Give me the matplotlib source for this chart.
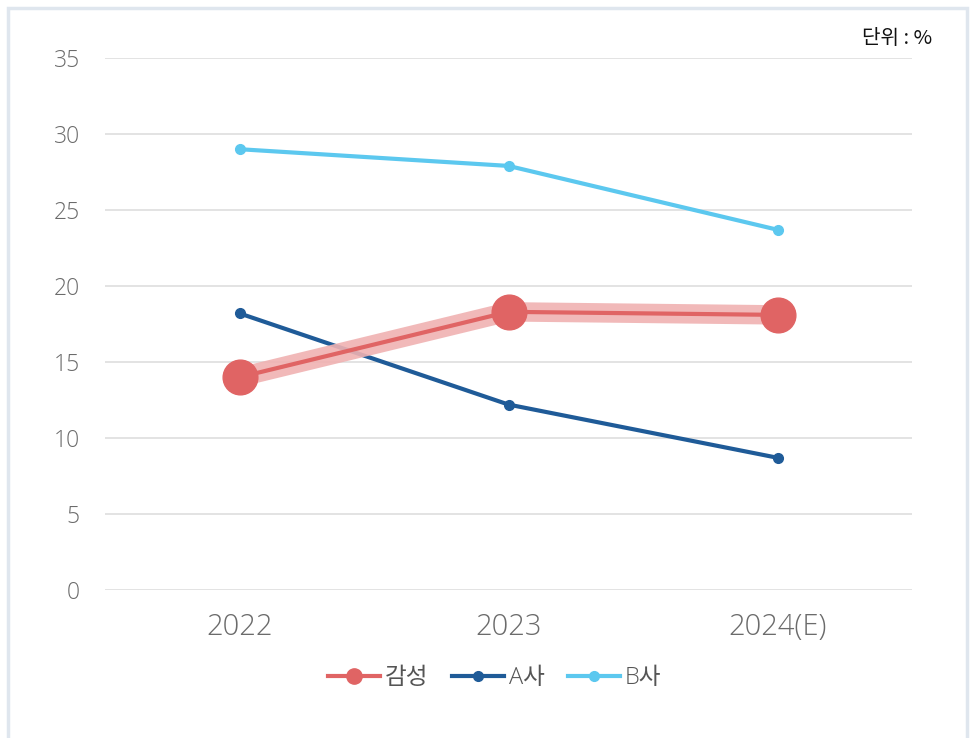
import matplotlib
matplotlib.use("Agg")
import matplotlib.pyplot as plt
from matplotlib.patches import Rectangle
from matplotlib.lines import Line2D

plt.rcParams['font.family'] = ['Open Sans', 'Noto Sans CJK KR', 'DejaVu Sans']

categories = ['2022', '2023', '2024(E)']
gamsung = [14.0, 18.3, 18.1]
a_sa = [18.2, 12.2, 8.7]
b_sa = [29.0, 27.9, 23.7]
series_names = ['감성', 'A사', 'B사']
yticks = [0, 5, 10, 15, 20, 25, 30, 35]

RED = '#e06464'
BAND = '#f0b2b2'
BLUE = '#1f5b98'
SKY = '#5cc8ef'

fig = plt.figure(figsize=(9.76, 7.38), dpi=100)
fig.patches.append(Rectangle((8/976, -0.05), (967-8)/976, 1.05 - 8/738,
                             transform=fig.transFigure, fill=False,
                             edgecolor='#dfe6ee', linewidth=2.5))
ax = fig.add_axes([105/976, 1 - 590/738, (912-105)/976, (590-58)/738])
x = list(range(len(categories)))

ax.plot(x, b_sa, color=SKY, lw=3, marker='o', ms=7, zorder=3)
ax.plot(x, a_sa, color=BLUE, lw=3, marker='o', ms=7, zorder=3)
ax.plot(x, gamsung, color=BAND, lw=14, solid_capstyle='butt', zorder=4, alpha=0.9)
ax.plot(x, gamsung, color=RED, lw=3, zorder=5)
ax.plot(x, gamsung, color=RED, lw=0, marker='o', ms=25, zorder=6)

ax.set_xlim(-0.5, 2.5)
ax.set_ylim(0, 35)
ax.set_yticks(yticks)
ax.set_xticks(x)
ax.set_xticklabels(categories)
ax.grid(axis='y', color='#dedede', lw=1.2)
ax.set_axisbelow(True)
for s in ax.spines.values():
    s.set_visible(False)
ax.tick_params(axis='y', length=0, pad=18, labelsize=16.5, labelcolor='#6b6b6b')
ax.tick_params(axis='x', length=0, pad=16, labelsize=21, labelcolor='#6b6b6b')
for t in ax.get_yticklabels() + ax.get_xticklabels():
    t.set_fontweight('light')

handles = [
    Line2D([], [], color=RED, lw=3, marker='o', ms=11),
    Line2D([], [], color=BLUE, lw=3, marker='o', ms=7),
    Line2D([], [], color=SKY, lw=3, marker='o', ms=7),
]
leg = fig.legend(handles, series_names, loc='center', bbox_to_anchor=(495/976, 1 - 678/738),
                 ncol=3, frameon=False, fontsize=17, handlelength=2.2, handletextpad=0.2,
                 columnspacing=1.0)
for t in leg.get_texts():
    t.set_color('#555555')
    t.set_fontweight('light')

fig.text(932/976, 1 - 38/738, '단위 : %', ha='right', va='center', fontsize=14.5,
         color='#111111', family=['Noto Sans CJK KR', 'DejaVu Sans'])

fig.savefig('out.png', dpi=100)
